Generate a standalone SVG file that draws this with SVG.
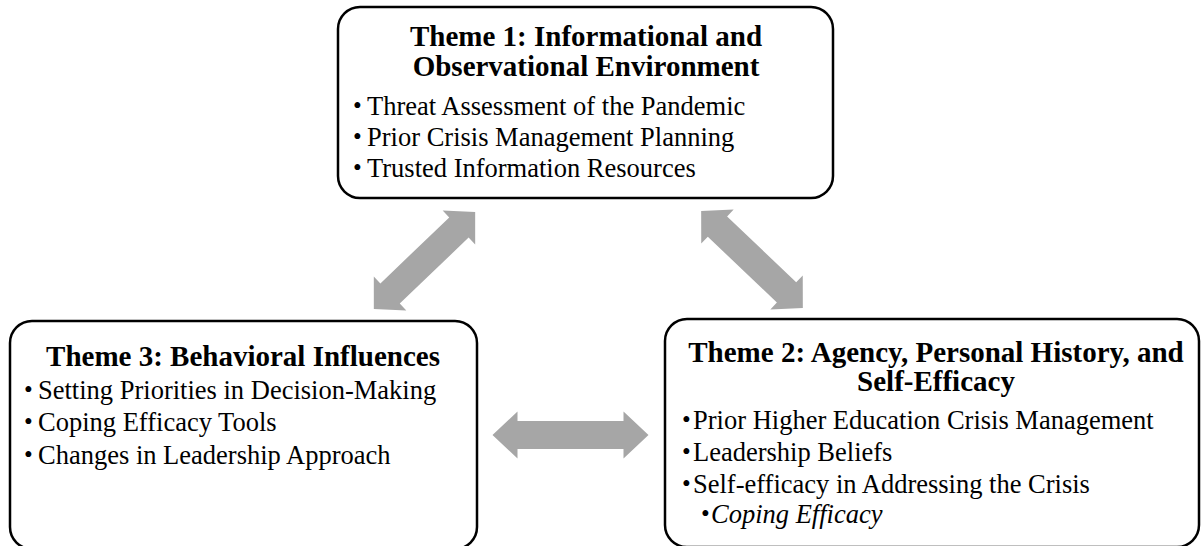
<svg xmlns="http://www.w3.org/2000/svg" width="1201" height="546" viewBox="0 0 1201 546">
  <style>
    .box { fill: #ffffff; stroke: #000000; stroke-width: 2.5; }
    .title { font-family: "Liberation Serif", "Times New Roman", serif; font-weight: bold; font-size: 29px; fill: #000; text-anchor: middle; }
    .item { font-family: "Liberation Serif", "Times New Roman", serif; font-size: 26.5px; fill: #000; }
    .dot { font-family: "Liberation Serif", "Times New Roman", serif; font-size: 25px; fill: #000; }
    .sub { font-style: italic; }
    .arrow { fill: #a6a6a6; }
  </style>
  <defs>
    <!-- double-headed block arrow, centred on the origin, pointing along x -->
    <polygon id="dbl" points="-78,0 -53,-23.5 -53,-14 53,-14 53,-23.5 78,0 53,23.5 53,14 -53,14 -53,23.5"/>
  </defs>

  <rect width="1201" height="546" fill="#ffffff"/>

  <g id="connectors" class="arrow">
    <use href="#dbl" transform="translate(424.5,260.5) rotate(-43.8) scale(0.9,1)"/>
    <use href="#dbl" transform="translate(752,259.5) rotate(43.6) scale(0.9,1)"/>
    <use href="#dbl" transform="translate(570.5,435)"/>
  </g>

  <g id="theme1">
    <rect class="box" x="338" y="7" width="495" height="191" rx="22"/>
    <text class="title" x="586" y="46">Theme 1: Informational and</text>
    <text class="title" x="586" y="76">Observational Environment</text>
    <text class="dot" x="353" y="114">•</text><text class="item" x="367" y="115">Threat Assessment of the Pandemic</text>
    <text class="dot" x="353" y="145">•</text><text class="item" x="367" y="146">Prior Crisis Management Planning</text>
    <text class="dot" x="353" y="176">•</text><text class="item" x="367" y="177">Trusted Information Resources</text>
  </g>

  <g id="theme3">
    <rect class="box" x="10" y="321" width="467" height="228" rx="22"/>
    <text class="title" x="243" y="366">Theme 3: Behavioral Influences</text>
    <text class="dot" x="24" y="398">•</text><text class="item" x="38" y="399">Setting Priorities in Decision-Making</text>
    <text class="dot" x="24" y="430">•</text><text class="item" x="38" y="431">Coping Efficacy Tools</text>
    <text class="dot" x="24" y="463">•</text><text class="item" x="38" y="464">Changes in Leadership Approach</text>
  </g>

  <g id="theme2">
    <rect class="box" x="665" y="319" width="534" height="228" rx="22"/>
    <text class="title" x="936" y="362">Theme 2: Agency, Personal History, and</text>
    <text class="title" x="936" y="391">Self-Efficacy</text>
    <text class="dot" x="682" y="428">•</text><text class="item" x="693" y="429">Prior Higher Education Crisis Management</text>
    <text class="dot" x="682" y="460">•</text><text class="item" x="693" y="461">Leadership Beliefs</text>
    <text class="dot" x="682" y="492">•</text><text class="item" x="693" y="493">Self-efficacy in Addressing the Crisis</text>
    <text class="dot" x="701" y="522">•</text><text class="item sub" x="711" y="523">Coping Efficacy</text>
  </g>
</svg>
